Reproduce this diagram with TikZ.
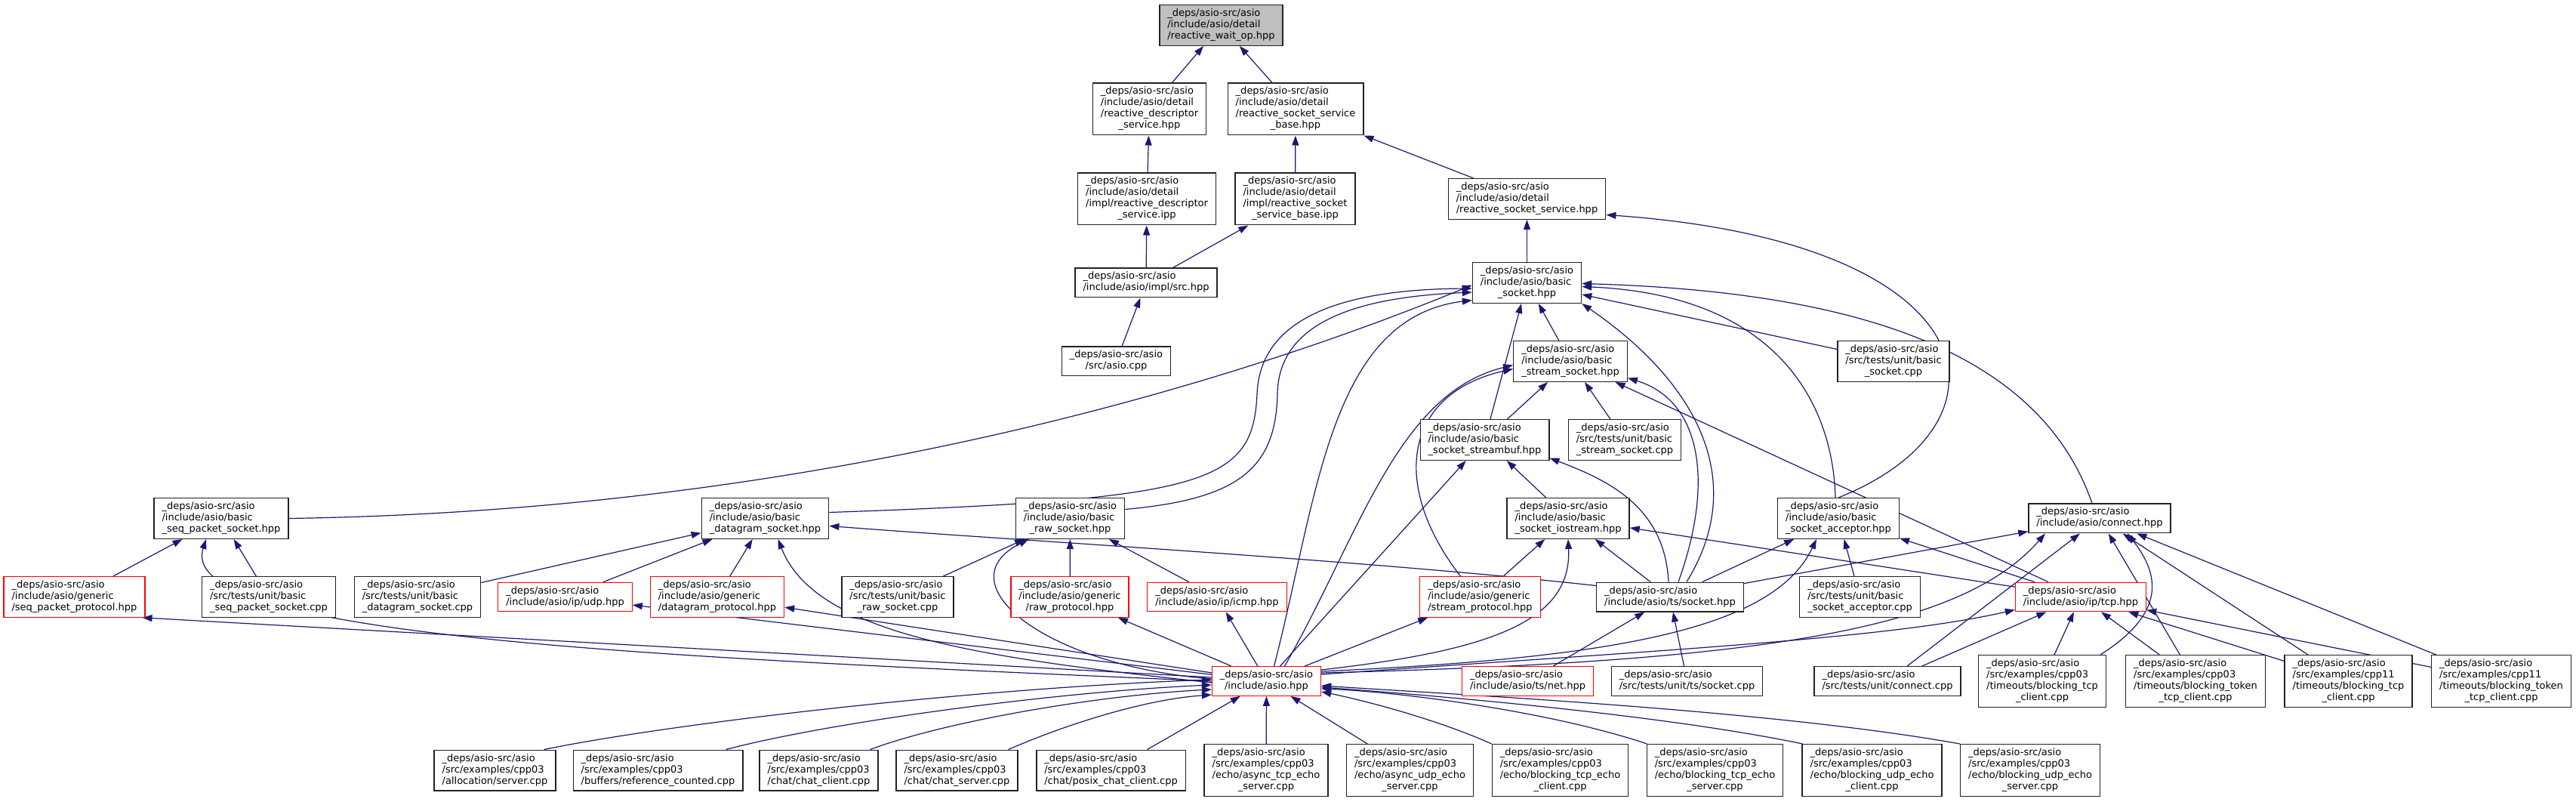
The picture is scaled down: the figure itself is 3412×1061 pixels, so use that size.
\documentclass[tikz,border=0pt]{standalone}
\usepackage{fontspec}
\setmainfont{DejaVu Sans}
\usepackage{xcolor}
\usepackage{tikz}
\usetikzlibrary{arrows.meta, backgrounds}
\definecolor{doxnavy}{HTML}{191970}
\definecolor{doxred}{HTML}{FF0000}
\definecolor{doxgray}{HTML}{BFBFBF}
\definecolor{doxframe}{HTML}{222222}

\newcommand{\dsrc}{\_deps/asio-src/asio}
\newcommand{\flines}[2]{\begin{tabular}{@{}l@{}}#1\\\multicolumn{1}{@{}c@{}}{#2}\end{tabular}}

\tikzset{
  filebox/.style={draw=doxframe, line width=1.4pt, fill=white, inner xsep=10.5pt, inner ysep=4.3pt,
    font=\fontsize{13}{15}\selectfont},
  trunc/.style={filebox, draw=doxred, line width=1.2pt},
  rootbox/.style={filebox, fill=doxgray},
  incl/.style={doxnavy, line width=1.2pt, -{Triangle[length=13pt,width=9pt]}}
}

\begin{document}
\begin{tikzpicture}[x=1pt,y=1pt]
        \useasboundingbox (0,0) rectangle (3412,1061);
        % detail headers (top)
        \node[rootbox] (waitop) at (1617.5,1027.5) {\flines{\dsrc\\/include/asio/detail}{/reactive\_wait\_op.hpp}};
        \node[filebox] (rds) at (1522.5,916.5) {\flines{\dsrc\\/include/asio/detail\\/reactive\_descriptor}{\_service.hpp}};
        \node[filebox] (rssb) at (1716,916.5) {\flines{\dsrc\\/include/asio/detail\\/reactive\_socket\_service}{\_base.hpp}};
        \node[filebox] (rdsipp) at (1519,797.5) {\flines{\dsrc\\/include/asio/detail\\/impl/reactive\_descriptor}{\_service.ipp}};
        \node[filebox] (rssbipp) at (1715.5,797.5) {\flines{\dsrc\\/include/asio/detail\\/impl/reactive\_socket}{\_service\_base.ipp}};
        \node[filebox] (rss) at (2022.5,797.5) {\flines{\dsrc\\/include/asio/detail}{/reactive\_socket\_service.hpp}};
        \node[filebox] (src) at (1518,686.5) {\flines{\dsrc}{/include/asio/impl/src.hpp}};
        \node[filebox] (asiocpp) at (1478.5,582.5) {\flines{\dsrc}{/src/asio.cpp}};
        % basic socket family
        \node[filebox] (bsock) at (2022.5,686.5) {\flines{\dsrc\\/include/asio/basic}{\_socket.hpp}};
        \node[filebox] (stream) at (2080,582.5) {\flines{\dsrc\\/include/asio/basic}{\_stream\_socket.hpp}};
        \node[filebox] (tbsock) at (2508,582.5) {\flines{\dsrc\\/src/tests/unit/basic}{\_socket.cpp}};
        \node[filebox] (streambuf) at (1966.5,478.5) {\flines{\dsrc\\/include/asio/basic}{\_socket\_streambuf.hpp}};
        \node[filebox] (tstream) at (2152,478.5) {\flines{\dsrc\\/src/tests/unit/basic}{\_stream\_socket.cpp}};
        \node[filebox] (seqpkt) at (293,374.5) {\flines{\dsrc\\/include/asio/basic}{\_seq\_packet\_socket.hpp}};
        \node[filebox] (dgram) at (1013.5,374.5) {\flines{\dsrc\\/include/asio/basic}{\_datagram\_socket.hpp}};
        \node[filebox] (raw) at (1417.5,374.5) {\flines{\dsrc\\/include/asio/basic}{\_raw\_socket.hpp}};
        \node[filebox] (iostream) at (2077,374.5) {\flines{\dsrc\\/include/asio/basic}{\_socket\_iostream.hpp}};
        \node[filebox] (acceptor) at (2435,374.5) {\flines{\dsrc\\/include/asio/basic}{\_socket\_acceptor.hpp}};
        \node[filebox] (connect) at (2781,374.5) {\flines{\dsrc}{/include/asio/connect.hpp}};
        % protocols and tests
        \node[trunc] (seqproto) at (98.5,270.5) {\flines{\dsrc\\/include/asio/generic}{/seq\_packet\_protocol.hpp}};
        \node[filebox] (tseqpkt) at (356,270.5) {\flines{\dsrc\\/src/tests/unit/basic}{\_seq\_packet\_socket.cpp}};
        \node[filebox] (tdgram) at (553,270.5) {\flines{\dsrc\\/src/tests/unit/basic}{\_datagram\_socket.cpp}};
        \node[trunc] (udp) at (748.5,270.5) {\flines{\dsrc}{/include/asio/ip/udp.hpp}};
        \node[trunc] (dgramproto) at (950,270.5) {\flines{\dsrc\\/include/asio/generic}{/datagram\_protocol.hpp}};
        \node[filebox] (traw) at (1189,270.5) {\flines{\dsrc\\/src/tests/unit/basic}{\_raw\_socket.cpp}};
        \node[trunc] (rawproto) at (1417,270.5) {\flines{\dsrc\\/include/asio/generic}{/raw\_protocol.hpp}};
        \node[trunc] (icmp) at (1612,270.5) {\flines{\dsrc}{/include/asio/ip/icmp.hpp}};
        \node[trunc] (streamproto) at (1960.5,270.5) {\flines{\dsrc\\/include/asio/generic}{/stream\_protocol.hpp}};
        \node[filebox] (tssocket) at (2212,270.5) {\flines{\dsrc}{/include/asio/ts/socket.hpp}};
        \node[filebox] (tacceptor) at (2463.5,270.5) {\flines{\dsrc\\/src/tests/unit/basic}{\_socket\_acceptor.cpp}};
        \node[trunc] (tcp) at (2756,270.5) {\flines{\dsrc}{/include/asio/ip/tcp.hpp}};
        % asio.hpp row
        \node[trunc] (asiohpp) at (1677.5,159) {\flines{\dsrc}{/include/asio.hpp}};
        \node[trunc] (tsnet) at (2023.5,159) {\flines{\dsrc}{/include/asio/ts/net.hpp}};
        \node[filebox] (ttssocket) at (2234.5,159) {\flines{\dsrc}{/src/tests/unit/ts/socket.cpp}};
        \node[filebox] (tconnect) at (2500,159) {\flines{\dsrc}{/src/tests/unit/connect.cpp}};
        \node[filebox] (cpp03tcp) at (2705,159) {\flines{\dsrc\\/src/examples/cpp03\\/timeouts/blocking\_tcp}{\_client.cpp}};
        \node[filebox] (cpp03tok) at (2908,159) {\flines{\dsrc\\/src/examples/cpp03\\/timeouts/blocking\_token}{\_tcp\_client.cpp}};
        \node[filebox] (cpp11tcp) at (3110.5,159) {\flines{\dsrc\\/src/examples/cpp11\\/timeouts/blocking\_tcp}{\_client.cpp}};
        \node[filebox] (cpp11tok) at (3313,159) {\flines{\dsrc\\/src/examples/cpp11\\/timeouts/blocking\_token}{\_tcp\_client.cpp}};
        % examples (bottom)
        \node[filebox] (alloc) at (655.5,41) {\flines{\dsrc\\/src/examples/cpp03}{/allocation/server.cpp}};
        \node[filebox] (refcount) at (871.5,41) {\flines{\dsrc\\/src/examples/cpp03}{/buffers/reference\_counted.cpp}};
        \node[filebox] (chatcl) at (1084.5,41) {\flines{\dsrc\\/src/examples/cpp03}{/chat/chat\_client.cpp}};
        \node[filebox] (chatsv) at (1267.5,41) {\flines{\dsrc\\/src/examples/cpp03}{/chat/chat\_server.cpp}};
        \node[filebox] (posix) at (1471.5,41) {\flines{\dsrc\\/src/examples/cpp03}{/chat/posix\_chat\_client.cpp}};
        \node[filebox] (asynctcp) at (1677,41) {\flines{\dsrc\\/src/examples/cpp03\\/echo/async\_tcp\_echo}{\_server.cpp}};
        \node[filebox] (asyncudp) at (1867.5,41) {\flines{\dsrc\\/src/examples/cpp03\\/echo/async\_udp\_echo}{\_server.cpp}};
        \node[filebox] (btcpcl) at (2066.5,41) {\flines{\dsrc\\/src/examples/cpp03\\/echo/blocking\_tcp\_echo}{\_client.cpp}};
        \node[filebox] (btcpsv) at (2271.5,41) {\flines{\dsrc\\/src/examples/cpp03\\/echo/blocking\_tcp\_echo}{\_server.cpp}};
        \node[filebox] (budpcl) at (2479.5,41) {\flines{\dsrc\\/src/examples/cpp03\\/echo/blocking\_udp\_echo}{\_client.cpp}};
        \node[filebox] (budpsv) at (2689,41) {\flines{\dsrc\\/src/examples/cpp03\\/echo/blocking\_udp\_echo}{\_server.cpp}};

        \begin{scope}[on background layer]
        % straight includes
        \foreach \s/\t in {rds/waitop, rssb/waitop, rdsipp/rds, rssbipp/rssb, rss/rssb, src/rdsipp, src/rssbipp,
            asiocpp/src, bsock/rss, streambuf/bsock, stream/bsock, tbsock/bsock, seqproto/seqpkt, tseqpkt/seqpkt,
            tdgram/dgram, udp/dgram, dgramproto/dgram, traw/raw, rawproto/raw, icmp/raw, streambuf/stream,
            tstream/stream, tcp/stream, iostream/streambuf, asiohpp/streambuf, streamproto/iostream, tcp/iostream,
            tssocket/iostream, tacceptor/acceptor, tcp/acceptor, tssocket/acceptor, tssocket/connect, tconnect/connect,
            cpp03tok/connect, cpp11tcp/connect, cpp11tok/connect, tconnect/tcp, cpp03tcp/tcp, cpp03tok/tcp,
            cpp11tcp/tcp, cpp11tok/tcp, asiohpp/udp, asiohpp/dgramproto, asiohpp/rawproto, asiohpp/icmp,
            asiohpp/streamproto, tsnet/tssocket, ttssocket/tssocket, posix/asiohpp, asynctcp/asiohpp, asyncudp/asiohpp} {
          \draw[incl] (\s) -- (\t);
        }
        % curved includes into basic_socket
        \draw[incl] (acceptor.north) .. controls (2680,500) and (2640,740) .. ([yshift=-21pt]rss.east);
        \draw[incl] (seqpkt.east) .. controls (1100,385) and (1650,560) .. ([yshift=-3pt]bsock.west);
        \draw[incl] ([yshift=8pt]dgram.east) .. controls (1600,400) and (1660,420) .. (1665,540)
          .. controls (1670,650) and (1800,678) .. ([yshift=-7.5pt]bsock.west);
        \draw[incl] ([yshift=12pt]raw.east) .. controls (1640,400) and (1690,440) .. (1692,540)
          .. controls (1694,640) and (1810,668) .. ([yshift=-12.5pt]bsock.west);
        \draw[incl] ([xshift=10pt]asiohpp.north) .. controls (1745,400) and (1760,640) .. ([yshift=-23pt]bsock.west);
        \draw[incl] ([xshift=22pt]tssocket.north) .. controls (2320,430) and (2240,560) .. (bsock.south east);
        \draw[incl] ([xshift=-4pt]acceptor.north) .. controls (2428,520) and (2360,670) .. ([yshift=-5pt]bsock.east);
        \draw[incl] ([xshift=-10pt]connect.north) .. controls (2700,600) and (2450,675) .. ([yshift=-1pt]bsock.east);
        % curved includes into stream socket and streambuf
        \draw[incl] ([xshift=24pt]asiohpp.north) .. controls (1800,350) and (1850,540) .. ([yshift=-5pt]stream.west);
        \draw[incl] ([xshift=-26pt]streamproto.north) .. controls (1840,420) and (1860,540) .. ([yshift=-10pt]stream.west);
        \draw[incl] ([xshift=11pt]tssocket.north) .. controls (2270,420) and (2255,530) .. ([yshift=-22pt]stream.east);
        \draw[incl] ([xshift=-2pt]tssocket.north) .. controls (2205,390) and (2130,425) .. ([yshift=-24pt]streambuf.east);
        % curved includes from asio.hpp
        \draw[incl] (asiohpp.west) .. controls (900,190) and (230,215) .. ([xshift=-20pt]seqpkt.south);
        \draw[incl] ([yshift=5pt]asiohpp.west) -- ([xshift=-4pt]seqproto.south east);
        \draw[incl] ([yshift=-2pt]asiohpp.west) .. controls (1300,190) and (1080,220) .. ([xshift=17pt]dgram.south);
        \draw[incl] ([yshift=3pt]asiohpp.west) .. controls (1380,180) and (1250,290) .. ([xshift=-55pt]raw.south);
        \draw[incl] ([yshift=15pt]tssocket.west) .. controls (1800,320) and (1350,345) .. ([yshift=-10pt]dgram.east);
        \draw[incl] ([yshift=15pt]asiohpp.east) .. controls (1980,200) and (2082,240) .. (iostream.south);
        \draw[incl] ([yshift=13pt]asiohpp.east) .. controls (2150,190) and (2350,230) .. ([xshift=-29pt]acceptor.south);
        \draw[incl] ([yshift=11pt]asiohpp.east) .. controls (2350,185) and (2600,230) .. ([xshift=-72pt]connect.south);
        \draw[incl] ([yshift=9pt]asiohpp.east) .. controls (2200,200) and (2500,215) .. ([yshift=-17pt]tcp.west);
        \draw[incl] ([xshift=77pt]cpp03tcp.north) .. controls (2870,250) and (2860,300) .. ([xshift=37pt]connect.south);
        % examples into asio.hpp
        \draw[incl] ([xshift=65pt]alloc.north) .. controls (900,105) and (1300,150) .. ([yshift=2pt]asiohpp.west);
        \draw[incl] ([xshift=90pt]refcount.north) .. controls (1100,105) and (1400,145) .. ([yshift=-5pt]asiohpp.west);
        \draw[incl] ([xshift=68pt]chatcl.north) .. controls (1250,105) and (1450,140) .. ([yshift=-11pt]asiohpp.west);
        \draw[incl] ([xshift=68pt]chatsv.north) .. controls (1420,105) and (1520,135) .. ([yshift=-18pt]asiohpp.west);
        \draw[incl] (btcpcl.north west) .. controls (1900,110) and (1800,135) .. ([yshift=-14pt]asiohpp.east);
        \draw[incl] ([xshift=-90pt]btcpsv.north) .. controls (2050,120) and (1850,145) .. ([yshift=-10pt]asiohpp.east);
        \draw[incl] ([xshift=-92pt]budpcl.north) .. controls (2200,115) and (1900,140) .. ([yshift=-8pt]asiohpp.east);
        \draw[incl] ([xshift=-93pt]budpsv.north) .. controls (2350,120) and (1950,140) .. ([yshift=-6pt]asiohpp.east);
        \end{scope}
      \end{tikzpicture}
\end{document}
